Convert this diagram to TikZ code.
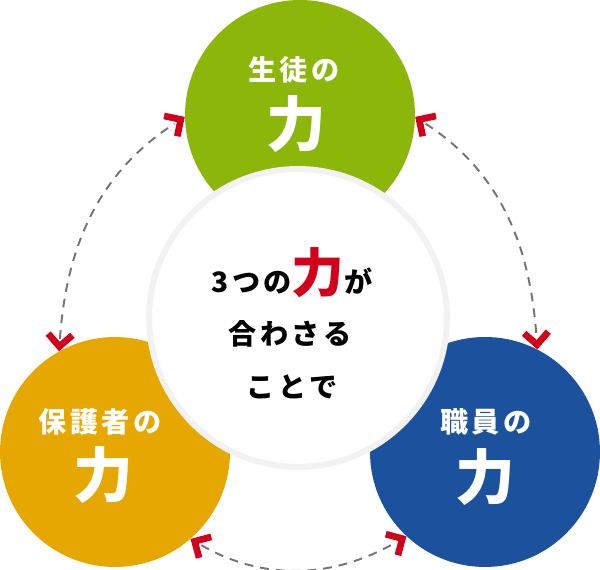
\documentclass[tikz,border=0pt]{standalone}
\usepackage{fontspec}
\usetikzlibrary{decorations.markings}
\newfontfamily\jp{Noto Sans CJK JP}[LetterSpace=12]
\definecolor{seitoGreen}{HTML}{8DB60B}
\definecolor{hogoOrange}{HTML}{E6A800}
\definecolor{shokuBlue}{HTML}{1B519D}
\definecolor{chikaraRed}{HTML}{D2001A}
\definecolor{dashGray}{HTML}{747474}
\tikzset{
  chevron/.style={draw=chikaraRed, solid, line width=3.8pt, line join=miter,
    shorten <=0pt, shorten >=0pt},
  chevtips/.style={decorate, decoration={markings,
    mark=at position 0.0001 with {\draw[chevron] (9.5pt,6.9pt) -- (2.6pt,0pt) -- (9.5pt,-6.9pt);},
    mark=at position 0.9999 with {\draw[chevron] (-9.5pt,6.9pt) -- (-2.6pt,0pt) -- (-9.5pt,-6.9pt);}}}
}
\begin{document}
\begin{tikzpicture}[x=0.02cm, y=0.02cm,
    power/.style={circle, inner sep=0pt, minimum size=4.6cm},
    powertag/.style={text=white, font=\jp\bfseries\fontsize{16}{16}\selectfont},
    powerbig/.style={text=white, font=\jp\bfseries\fontsize{34}{34}\selectfont},
    lead/.style={anchor=base, font=\jp\bfseries\fontsize{16}{16}\selectfont},
    link/.style={dashGray, line width=1.1pt, dash pattern=on 5pt off 4pt,
      shorten <=7pt, shorten >=7pt, postaction=chevtips}]
    \useasboundingbox (0,0) rectangle (600,570);

    % Three circles
    \node[power, fill=seitoGreen] (seito) at (300,455) {};
    \node[power, fill=hogoOrange] (hogo) at (115,118) {};
    \node[power, fill=shokuBlue] (shoku) at (485,118) {};

    % Centre circle with a soft ring
    \node[circle, fill=white, draw=black!5, line width=3.4pt, inner sep=0pt,
          minimum size=5.96cm] (core) at (298,252) {};

    % Labels
    \node[powertag] (seitoName) at (294,500) {生徒の};
    \node[powerbig] (seitoPower) at (296,446) {力};
    \node[powertag] (hogoName) at (100,148) {保護者の};
    \node[powerbig] (hogoPower) at (103,95) {力};
    \node[powertag] (shokuName) at (486,148) {職員の};
    \node[powerbig] (shokuPower) at (485,93) {力};

    % Centre text
    \node[lead] (lineA) at (292,277) {3つの{\color{chikaraRed}\fontsize{30}{30}\selectfont 力}が};
    \node[lead] (lineB) at (290,225) {合わさる};
    \node[lead] (lineC) at (292,172) {ことで};

    % Dashed links
    \draw[link] (hogo.119) to[out=86, in=213] (seito.181);
    \draw[link] (seito.-1) to[out=-33, in=94] (shoku.63);
    \draw[link] (hogo.-49) to[out=-30, in=210] (shoku.227);
\end{tikzpicture}
\end{document}
